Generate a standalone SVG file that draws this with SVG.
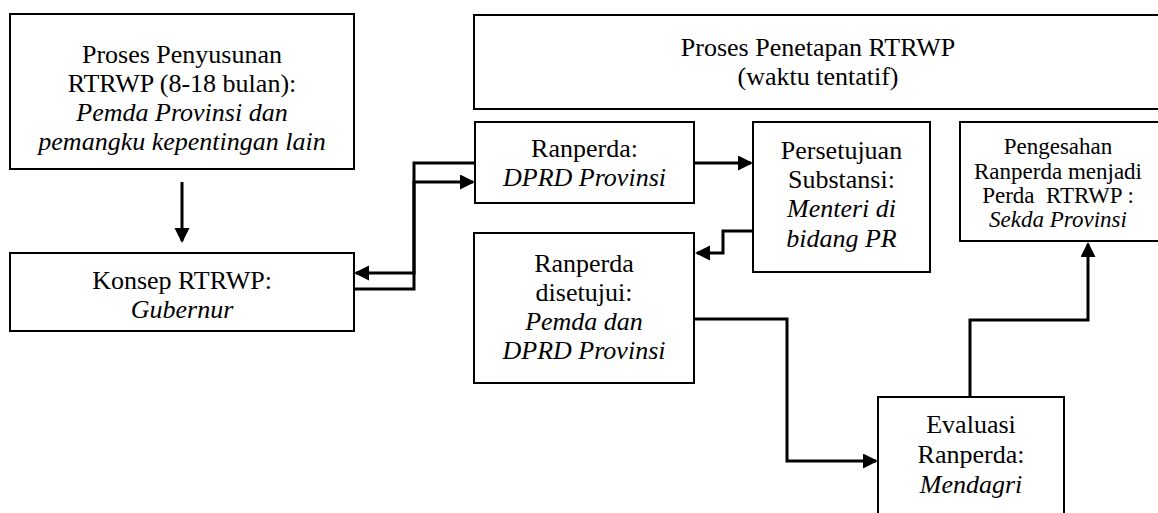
<svg xmlns="http://www.w3.org/2000/svg" width="1158" height="513" viewBox="0 0 1158 513">
<style>
.box{fill:#fff;stroke:#000;stroke-width:2}
.t{font-family:"Liberation Serif",serif;font-size:26px;fill:#000;text-anchor:middle}
.s{font-size:23px}
.i{font-style:italic}
.c{fill:none;stroke:#000;stroke-width:3}
</style>
<defs>
<marker id="ah" markerUnits="userSpaceOnUse" markerWidth="16" markerHeight="16" refX="13" refY="7.5" orient="auto">
<path d="M0,0 L15,7.5 L0,15 z" fill="#000"/>
</marker>
</defs>
<rect width="1158" height="513" fill="#fff"/>
<g id="penyusunan">
<rect class="box" x="10" y="14" width="344" height="155"/>
<text class="t" x="182" y="63">Proses Penyusunan</text>
<text class="t" x="182" y="92">RTRWP (8-18 bulan):</text>
<text class="t i" x="182" y="121">Pemda Provinsi dan</text>
<text class="t i" x="182" y="150">pemangku kepentingan lain</text>
</g>
<g id="konsep">
<rect class="box" x="10" y="253" width="344" height="78"/>
<text class="t" x="182" y="289">Konsep RTRWP:</text>
<text class="t i" x="182" y="318">Gubernur</text>
</g>
<g id="penetapan">
<rect class="box" x="474" y="15" width="700" height="94"/>
<text class="t" x="818" y="56">Proses Penetapan RTRWP</text>
<text class="t" x="818" y="85">(waktu tentatif)</text>
</g>
<g id="ranperda">
<rect class="box" x="475" y="122" width="219" height="81"/>
<text class="t" x="584.5" y="157">Ranperda:</text>
<text class="t i" x="584.5" y="186">DPRD Provinsi</text>
</g>
<g id="persetujuan">
<rect class="box" x="753" y="122" width="177" height="150"/>
<text class="t" x="841.5" y="159">Persetujuan</text>
<text class="t" x="841.5" y="188">Substansi:</text>
<text class="t i" x="841.5" y="217">Menteri di</text>
<text class="t i" x="841.5" y="247">bidang PR</text>
</g>
<g id="pengesahan">
<rect class="box" x="960" y="122" width="210" height="119"/>
<text class="t s" x="1058" y="154">Pengesahan</text>
<text class="t s" x="1058" y="179">Ranperda menjadi</text>
<text class="t s" x="1058" y="203" xml:space="preserve">Perda  RTRWP :</text>
<text class="t s i" x="1058" y="227">Sekda Provinsi</text>
</g>
<g id="disetujui">
<rect class="box" x="474" y="233" width="220" height="150"/>
<text class="t" x="584" y="272">Ranperda</text>
<text class="t" x="584" y="301">disetujui:</text>
<text class="t i" x="584" y="330">Pemda dan</text>
<text class="t i" x="584" y="359">DPRD Provinsi</text>
</g>
<g id="evaluasi">
<rect class="box" x="878" y="397" width="186" height="140"/>
<text class="t" x="971" y="433">Evaluasi</text>
<text class="t" x="971" y="463">Ranperda:</text>
<text class="t i" x="971" y="493">Mendagri</text>
</g>
<g id="connectors">
<path class="c" d="M182,182 V241" marker-end="url(#ah)"/>
<path class="c" d="M354,289 H414 V182 H473" marker-end="url(#ah)"/>
<path class="c" d="M475,163 H414 V273 H356" marker-end="url(#ah)"/>
<path class="c" d="M694,163 H751" marker-end="url(#ah)"/>
<path class="c" d="M753,231 H723 V253 H697" marker-end="url(#ah)"/>
<path class="c" d="M694,319 H787 V461 H876" marker-end="url(#ah)"/>
<path class="c" d="M970,397 V320 H1088 V244" marker-end="url(#ah)"/>
</g>
</svg>
